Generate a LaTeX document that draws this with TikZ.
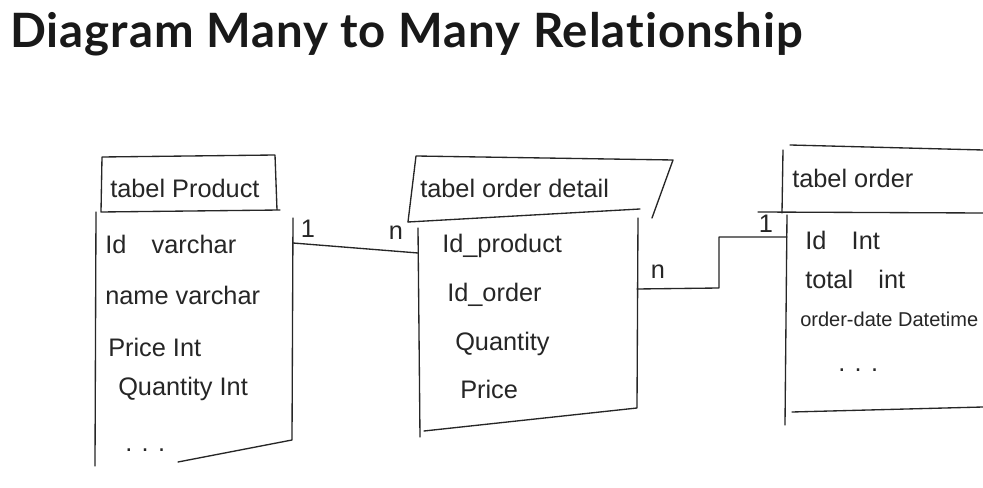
\documentclass[tikz,border=0pt]{standalone}
\usepackage{fontspec}
\setmainfont{Liberation Sans}
\newfontfamily\titlefont{Lato}[Ligatures=NoCommon,LetterSpace=2]
\begin{document}
\begin{tikzpicture}[x=0.75pt,y=-0.75pt,
  pen/.style={line width=1pt,line cap=round,line join=round,black!85},
  row/.style={anchor=west,inner sep=0pt,font=\fontsize{19}{20}\selectfont,text=black!85},
  hdr/.style={anchor=west,inner sep=0pt,font=\fontsize{19}{20}\selectfont,text=black!85},
  card/.style={inner sep=0pt,font=\fontsize{19}{20}\selectfont,text=black!85}]
\useasboundingbox (0,0) rectangle (983,488);
\clip (0,0) rectangle (983,488);
\fill[white] (0,0) rectangle (983,488);
% title
\node[anchor=base west,inner sep=0pt,font=\titlefont\bfseries\fontsize{35.5}{40}\selectfont,text=black!90] (title) at (10,48) {Diagram Many to Many Relationship};

% ---- tabel Product
\draw[pen] (102,157) -- (275,155) -- (277,210) -- (280,210) -- (101,212) -- cycle;
\node[hdr] (hprod) at (110,188) {tabel Product};
\draw[pen] (96,212) -- (95,466);
\draw[pen] (293,218) -- (292,440) -- (178,462);
\node[row] (p1) at (105,244) {Id\quad varchar};
\node[row] (p2) at (105,295) {name varchar};
\node[row] (p3) at (108,347) {Price Int};
\node[row] (p4) at (118,389) {Quantity Int};
\node[row] (p5) at (125,450) {. . .};
\coordinate (prodR) at (293,243);

% ---- tabel order detail
\draw[pen] (408,222) -- (416,156) -- (673,160) -- (652,218);
\draw[pen] (408,222) -- (640,209);
\node[hdr] (hdet) at (420,188) {tabel order detail};
\draw[pen] (418,228) -- (420,437);
\draw[pen] (638,218) -- (637,408) -- (424,431);
\node[row] (d1) at (442,246) {Id\_product};
\node[row] (d2) at (447,295) {Id\_order};
\node[row] (d3) at (455,344) {Quantity};
\node[row] (d4) at (460,389) {Price};
\coordinate (detL) at (418,253);
\coordinate (detR) at (637,289);

% ---- tabel order
\draw[pen] (790,145) -- (983,150);
\draw[pen] (783,150) -- (782,213);
\draw[pen] (758,212) -- (983,213);
\node[hdr] (hord) at (792,178) {tabel order};
\draw[pen] (787,215) -- (785,425);
\draw[pen] (792,412) -- (983,407);
\node[row] (o1) at (805,240) {Id\quad Int};
\node[row] (o2) at (805,279) {total\quad int};
\node[row] (o3) at (800,319) {\resizebox{178\dimexpr0.75pt\relax}{!}{order-date Datetime}};
\node[row] (o4) at (838,370) {. . .};
\coordinate (ordL) at (787,237);

% ---- connectors
\draw[pen] (prodR) -- (detL);
\node[card] (c1) at (308,229) {1};
\node[card] (cn1) at (396,233) {n};
\coordinate (bend1) at (719,288);
\coordinate (bend2) at (719,237);
\draw[pen] (detR) -- (bend1) -- (bend2) -- (ordL);
\node[card] (cn2) at (658,272) {n};
\node[card] (c2) at (766,224) {1};
\end{tikzpicture}
\end{document}
